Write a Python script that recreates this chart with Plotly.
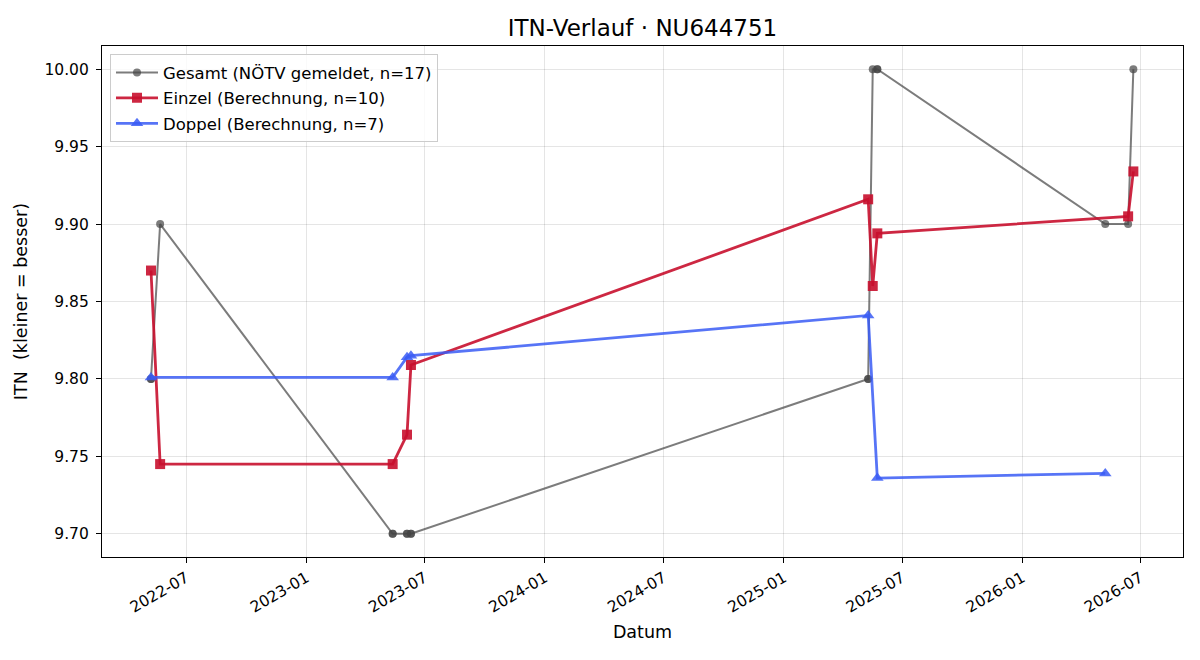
import plotly.graph_objects as go

# Gesamt (NÖTV gemeldet) - 17 entries
gesamt_dates = ["2022-05-08", "2022-05-08", "2022-05-22", "2023-05-13", "2023-05-13",
                "2023-06-04", "2023-06-04", "2023-06-10", "2023-06-10", "2025-05-10",
                "2025-05-10", "2025-05-17", "2025-05-24", "2025-05-24", "2026-05-08",
                "2026-06-12", "2026-06-20"]
gesamt_vals = [9.80, 9.80, 9.90, 9.70, 9.70, 9.70, 9.70, 9.70, 9.70, 9.80,
               9.80, 10.00, 10.00, 10.00, 9.90, 9.90, 10.00]

# Einzel (Berechnung) - 10 entries
einzel_dates = ["2022-05-08", "2022-05-22", "2023-05-13", "2023-06-04", "2023-06-10",
                "2025-05-10", "2025-05-17", "2025-05-24", "2026-06-12", "2026-06-20"]
einzel_vals = [9.870, 9.745, 9.745, 9.764, 9.809, 9.916, 9.860, 9.894, 9.905, 9.934]

# Doppel (Berechnung) - 7 entries
doppel_dates = ["2022-05-08", "2023-05-13", "2023-06-04", "2023-06-10",
                "2025-05-10", "2025-05-24", "2026-05-08"]
doppel_vals = [9.801, 9.801, 9.814, 9.815, 9.841, 9.736, 9.739]

title = "ITN-Verlauf · NU644751"
font = "DejaVu Sans"

fig = go.Figure()
fig.add_trace(go.Scatter(
    x=gesamt_dates, y=gesamt_vals, mode="lines+markers",
    name="Gesamt (NÖTV gemeldet, n=17)", legendgroup="g",
    line=dict(color="rgba(68,68,68,0.7)", width=2),
    marker=dict(symbol="circle", size=8, color="rgba(68,68,68,0.7)", line=dict(width=0)),
))
fig.add_trace(go.Scatter(
    x=einzel_dates, y=einzel_vals, mode="lines+markers",
    name="Einzel (Berechnung, n=10)", legendgroup="e",
    line=dict(color="rgba(200,16,46,0.9)", width=2.8),
    marker=dict(symbol="square", size=10, color="rgba(200,16,46,0.9)", line=dict(width=0)),
))
fig.add_trace(go.Scatter(
    x=doppel_dates, y=doppel_vals, mode="lines+markers",
    name="Doppel (Berechnung, n=7)", legendgroup="d",
    line=dict(color="rgba(58,92,245,0.85)", width=2.8),
    marker=dict(symbol="triangle-up", size=11, color="rgba(58,92,245,0.85)", line=dict(width=0)),
))

axis_common = dict(
    showline=True, linecolor="black", linewidth=1.2, mirror=True,
    ticks="outside", ticklen=5, tickwidth=1, tickcolor="black",
    showgrid=True, gridcolor="rgba(0,0,0,0.1)", gridwidth=1,
    zeroline=False, tickfont=dict(family=font, size=15.5, color="black"),
)

fig.update_layout(
    width=1200, height=660,
    paper_bgcolor="white", plot_bgcolor="white",
    margin=dict(l=102, r=17, t=46, b=103),
    title=dict(text=title, x=(102 + 1183) / 2 / 1200, xanchor="center",
               y=1 - 28 / 660, yanchor="middle",
               font=dict(family=font, size=23, color="black")),
    font=dict(family=font, size=15.5, color="black"),
    showlegend=True,
    legend=dict(x=0.0074, y=0.984, xanchor="left", yanchor="top",
                tracegroupgap=1, itemwidth=42,
                bgcolor="rgba(255,255,255,0.8)", bordercolor="#cccccc", borderwidth=1,
                font=dict(family=font, size=16.5, color="black")),
    xaxis=dict(**axis_common, type="date", range=["2022-02-22", "2026-09-04"],
               tick0="2022-01-01", dtick="M6", tickformat="%Y-%m", tickangle=-30,
               title=dict(text="Datum", font=dict(family=font, size=17.5), standoff=10)),
    yaxis=dict(**axis_common, range=[9.685, 10.015], dtick=0.05, tick0=9.70,
               tickformat=".2f", ticklabelstandoff=4,
               title=dict(text="ITN \u00a0(kleiner = besser)", font=dict(family=font, size=17.5), standoff=12)),
)

fig.write_html("out.html")
